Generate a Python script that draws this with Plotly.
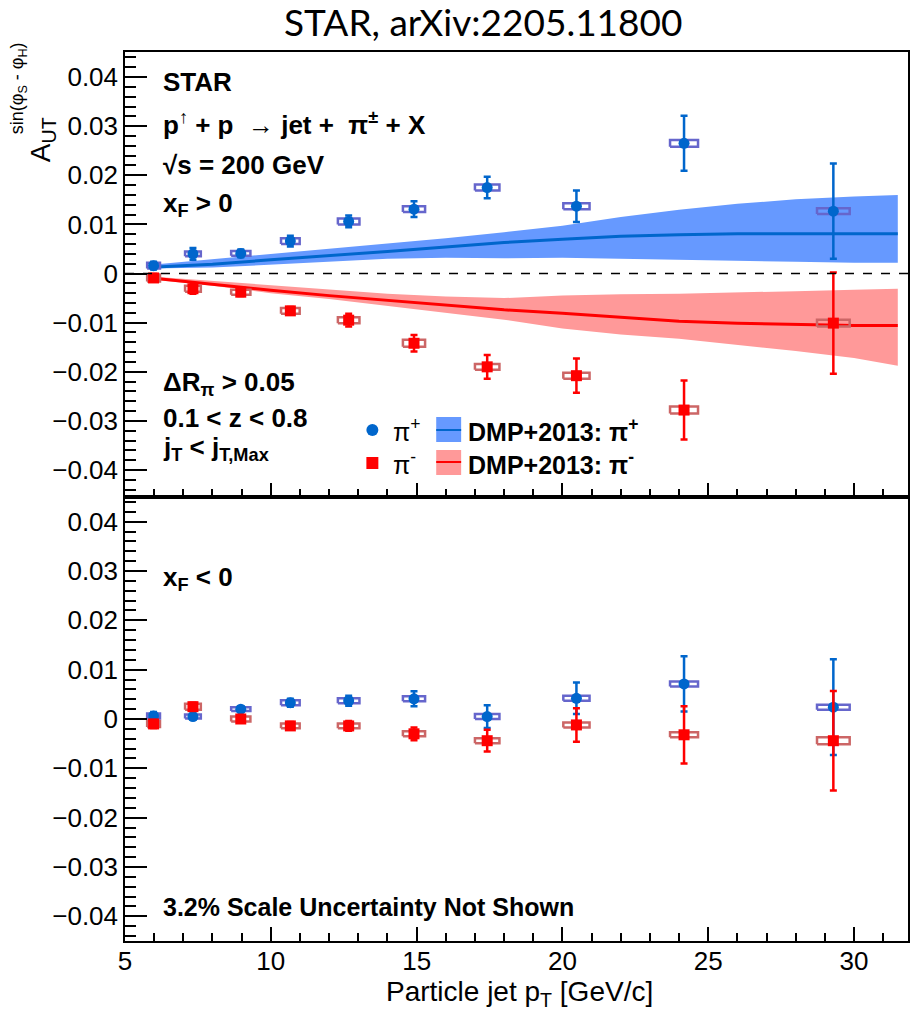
import plotly.graph_objects as go
from plotly.subplots import make_subplots

# ---------------- data ----------------
jet_pt = [5.98, 7.33, 8.97, 10.67, 12.67, 14.91, 17.42, 20.48, 24.17, 29.29]
box_half_width = [0.22, 0.27, 0.33, 0.32, 0.37, 0.38, 0.42, 0.45, 0.48, 0.56]

# x_F > 0
pip_fwd = [0.0016, 0.0040, 0.0041, 0.0066, 0.0106, 0.0131, 0.0175, 0.0137, 0.0265, 0.0127]
pip_fwd_stat = [0.0008, 0.0012, 0.0008, 0.0011, 0.0012, 0.0016, 0.0022, 0.0032, 0.0056, 0.0097]
pip_fwd_sys = [0.0006, 0.0005, 0.0005, 0.0006, 0.0006, 0.0006, 0.0006, 0.0006, 0.0007, 0.0006]
pim_fwd = [-0.0009, -0.0031, -0.0038, -0.0076, -0.0095, -0.0142, -0.0190, -0.0208, -0.0278, -0.0101]
pim_fwd_stat = [0.0008, 0.0010, 0.0008, 0.0008, 0.0013, 0.0017, 0.0024, 0.0035, 0.0060, 0.0103]
pim_fwd_sys = [0.0007, 0.0006, 0.0005, 0.0006, 0.0006, 0.0007, 0.0006, 0.0006, 0.0007, 0.0007]

# x_F < 0
pip_bwd = [0.0006, 0.0005, 0.0020, 0.0033, 0.0037, 0.0041, 0.0005, 0.0042, 0.0071, 0.0024]
pip_bwd_stat = [0.0008, 0.0006, 0.0006, 0.0008, 0.0010, 0.0015, 0.0023, 0.0032, 0.0056, 0.0097]
pip_bwd_sys = [0.0005, 0.0004, 0.0004, 0.0005, 0.0005, 0.0005, 0.0005, 0.0005, 0.0005, 0.0005]
pim_bwd = [-0.0010, 0.0025, 0.0000, -0.0014, -0.0014, -0.0030, -0.0044, -0.0012, -0.0032, -0.0044]
pim_bwd_stat = [0.0008, 0.0008, 0.0006, 0.0008, 0.0010, 0.0013, 0.0022, 0.0034, 0.0058, 0.0101]
pim_bwd_sys = [0.0006, 0.0006, 0.0005, 0.0005, 0.0005, 0.0005, 0.0005, 0.0005, 0.0005, 0.0007]

# DMP+2013 model curves (x_F > 0)
model_pt = [5.9, 8, 10, 12, 14, 16, 18, 20, 22, 24, 26, 28, 30, 31.5]
dmp_pip = [0.0013, 0.0019, 0.0028, 0.0036, 0.0045, 0.0054, 0.0063, 0.0070, 0.0076, 0.0079, 0.0081, 0.0081, 0.0081, 0.0081]
dmp_pip_hi = [0.0018, 0.0029, 0.0040, 0.0050, 0.0062, 0.0072, 0.0084, 0.0097, 0.0115, 0.0130, 0.0142, 0.0151, 0.0157, 0.0160]
dmp_pip_lo = [0.0010, 0.0012, 0.0018, 0.0024, 0.0030, 0.0032, 0.0031, 0.0032, 0.0031, 0.0028, 0.0026, 0.0024, 0.0022, 0.0022]
dmp_pim = [-0.0009, -0.0022, -0.0034, -0.0045, -0.0055, -0.0064, -0.0074, -0.0081, -0.0089, -0.0097, -0.0101, -0.0104, -0.0106, -0.0106]
dmp_pim_hi = [-0.0006, -0.0015, -0.0025, -0.0033, -0.0041, -0.0047, -0.0050, -0.0045, -0.0042, -0.0041, -0.0039, -0.0036, -0.0033, -0.0031]
dmp_pim_lo = [-0.0012, -0.0025, -0.0040, -0.0052, -0.0066, -0.0080, -0.0094, -0.0112, -0.0124, -0.0133, -0.0145, -0.0158, -0.0172, -0.0188]

# ---------------- style ----------------
BLUE = "#0066cc"
BLUE_BAND = "#6699ff"
BLUE_BOX = "#6666cc"
RED = "#ff0000"
RED_BAND = "#ff9999"
RED_BOX = "#cc6666"
TXT_FONT = "Liberation Sans, Arial, sans-serif"

W, H = 915, 1017
L, R, T, B = 125, 910, 52, 941


def px2x(px):
    return (px - L) / (R - L)


def py2y(py):
    return (B - py) / (B - T)


def box_outline(xs, ys, dxs, dys):
    bx, by = [], []
    for x, y, dx, dy in zip(xs, ys, dxs, dys):
        bx += [x - dx, x + dx, x + dx, x - dx, x - dx, None]
        by += [y - dy, y - dy, y + dy, y + dy, y - dy, None]
    return bx, by


fig = make_subplots(rows=2, cols=1, shared_xaxes=True, vertical_spacing=0)

# model bands and central curves
for lo, hi, mid, band_col, line_col in [
    (dmp_pip_lo, dmp_pip_hi, dmp_pip, BLUE_BAND, BLUE),
    (dmp_pim_lo, dmp_pim_hi, dmp_pim, RED_BAND, RED),
]:
    fig.add_trace(go.Scatter(x=model_pt + model_pt[::-1], y=hi + lo[::-1],
                             fill="toself", fillcolor=band_col, mode="lines",
                             line=dict(width=0, color=band_col), hoverinfo="skip",
                             showlegend=False), row=1, col=1)
    fig.add_trace(go.Scatter(x=model_pt, y=mid, mode="lines",
                             line=dict(color=line_col, width=3), showlegend=False),
                  row=1, col=1)

# data points with systematic boxes
panels = [
    (1, pip_fwd, pip_fwd_stat, pip_fwd_sys, pim_fwd, pim_fwd_stat, pim_fwd_sys),
    (2, pip_bwd, pip_bwd_stat, pip_bwd_sys, pim_bwd, pim_bwd_stat, pim_bwd_sys),
]
for row, pp, pps, ppy, pm, pms, pmy in panels:
    fig.add_hline(y=0, line=dict(color="black", width=1.5, dash="dash"), row=row, col=1)
    for vals, stat, sysu, col, boxcol, sym in [
        (pp, pps, ppy, BLUE, BLUE_BOX, "circle"),
        (pm, pms, pmy, RED, RED_BOX, "square"),
    ]:
        bx, by = box_outline(jet_pt, vals, box_half_width, sysu)
        fig.add_trace(go.Scatter(x=bx, y=by, mode="lines",
                                 line=dict(color=boxcol, width=2.5),
                                 showlegend=False, hoverinfo="skip"), row=row, col=1)
        fig.add_trace(go.Scatter(x=jet_pt, y=vals, mode="markers",
                                 marker=dict(symbol=sym, size=11, color=col),
                                 error_y=dict(type="data", array=stat, color=col,
                                              thickness=2.5, width=3.5),
                                 showlegend=False), row=row, col=1)

# ---------------- axes ----------------
xcommon = dict(range=[5, 31.85], tick0=5, dtick=5, ticks="inside", ticklen=14,
               tickwidth=1.5, tickcolor="black",
               minor=dict(dtick=1, ticks="inside", ticklen=8, tickwidth=1.5, tickcolor="black"),
               showline=True, linecolor="black", linewidth=1.5, mirror=True,
               showgrid=False, zeroline=False,
               tickfont=dict(family=TXT_FONT, size=26, color="black"))
fig.update_xaxes(**xcommon)
fig.update_xaxes(showticklabels=False, row=1, col=1)
fig.update_xaxes(ticklabelstandoff=-4, row=2, col=1)

ycommon = dict(tick0=0, dtick=0.01, ticks="inside", ticklen=22, tickwidth=1.5,
               tickcolor="black",
               minor=dict(dtick=0.002, ticks="inside", ticklen=11, tickwidth=1.5, tickcolor="black"),
               showline=True, linecolor="black", linewidth=1.5, mirror=True,
               showgrid=False, zeroline=False,
               tickfont=dict(family=TXT_FONT, size=26, color="black"))
fig.update_yaxes(**ycommon)
split = py2y(497)
fig.update_yaxes(range=[-0.0455, 0.0451], domain=[split, 1], row=1, col=1)
fig.update_yaxes(range=[-0.045, 0.045], domain=[0, split], row=2, col=1)

# ---------------- text ----------------
ann = []


def label(text, px, py, size=26, bold=True, xanchor="left", angle=0, family=TXT_FONT):
    t = f"<b>{text}</b>" if bold else text
    ann.append(dict(text=t, x=px2x(px), y=py2y(py), xref="paper", yref="paper",
                    xanchor=xanchor, yanchor="middle", showarrow=False, textangle=angle,
                    font=dict(family=family, size=size, color="black")))


label("STAR, arXiv:2205.11800", 484, 22, size=37, bold=False, xanchor="center",
      family="Lato, Carlito, sans-serif")
label("STAR", 161, 82)
label("p<sup>\u2191</sup> + p  \u2192 jet +  \u03c0<sup>\u00b1</sup> + X", 161, 123)
label("\u221as = 200 GeV", 161, 165)
label("x<sub>F</sub> > 0", 161, 205)
label("\u0394R<sub>\u03c0</sub> > 0.05", 161, 383)
label("0.1 < z < 0.8", 161, 418)
label("j<sub>T</sub> < j<sub>T,Max</sub>", 161, 448)
label("x<sub>F</sub> < 0", 161, 578)
label("3.2% Scale Uncertainty Not Shown", 161, 907, size=25)

# legend texts
label("\u03c0<sup>+</sup>", 392, 430, size=25, bold=False)
label("\u03c0<sup>-</sup>", 392, 463, size=25, bold=False)
label("DMP+2013: \u03c0<sup>+</sup>", 467, 430, size=25)
label("DMP+2013: \u03c0<sup>-</sup>", 467, 463, size=25)

# axis titles
label("Particle jet p<sub>T</sub> [GeV/c]", 521, 993, size=28, bold=False, xanchor="center")
label("A<sub>UT</sub>", 42, 140, size=28, bold=False, xanchor="center", angle=-90)
label("sin(\u03c6<sub>S</sub> - \u03c6<sub>H</sub>)", 18, 88, size=18, bold=False,
      xanchor="center", angle=-90)

# legend symbols
shapes = [
    dict(type="circle", xref="paper", yref="paper", x0=px2x(367), x1=px2x(379),
         y0=py2y(436), y1=py2y(424), fillcolor=BLUE, line=dict(width=0)),
    dict(type="rect", xref="paper", yref="paper", x0=px2x(367), x1=px2x(379),
         y0=py2y(469), y1=py2y(457), fillcolor=RED, line=dict(width=0)),
    dict(type="rect", xref="paper", yref="paper", x0=px2x(437), x1=px2x(462),
         y0=py2y(442), y1=py2y(417), fillcolor=BLUE_BAND, line=dict(width=0)),
    dict(type="line", xref="paper", yref="paper", x0=px2x(437), x1=px2x(462),
         y0=py2y(430), y1=py2y(430), line=dict(color=BLUE, width=2)),
    dict(type="rect", xref="paper", yref="paper", x0=px2x(437), x1=px2x(462),
         y0=py2y(475), y1=py2y(450), fillcolor=RED_BAND, line=dict(width=0)),
    dict(type="line", xref="paper", yref="paper", x0=px2x(437), x1=px2x(462),
         y0=py2y(462), y1=py2y(462), line=dict(color=RED, width=2)),
]

fig.update_layout(width=W, height=H, autosize=False,
                  margin=dict(l=L, r=W - R, t=T, b=H - B, pad=0),
                  paper_bgcolor="white", plot_bgcolor="white",
                  showlegend=False, annotations=ann)
for s in shapes:
    fig.add_shape(**s)

fig.write_html("out.html")
